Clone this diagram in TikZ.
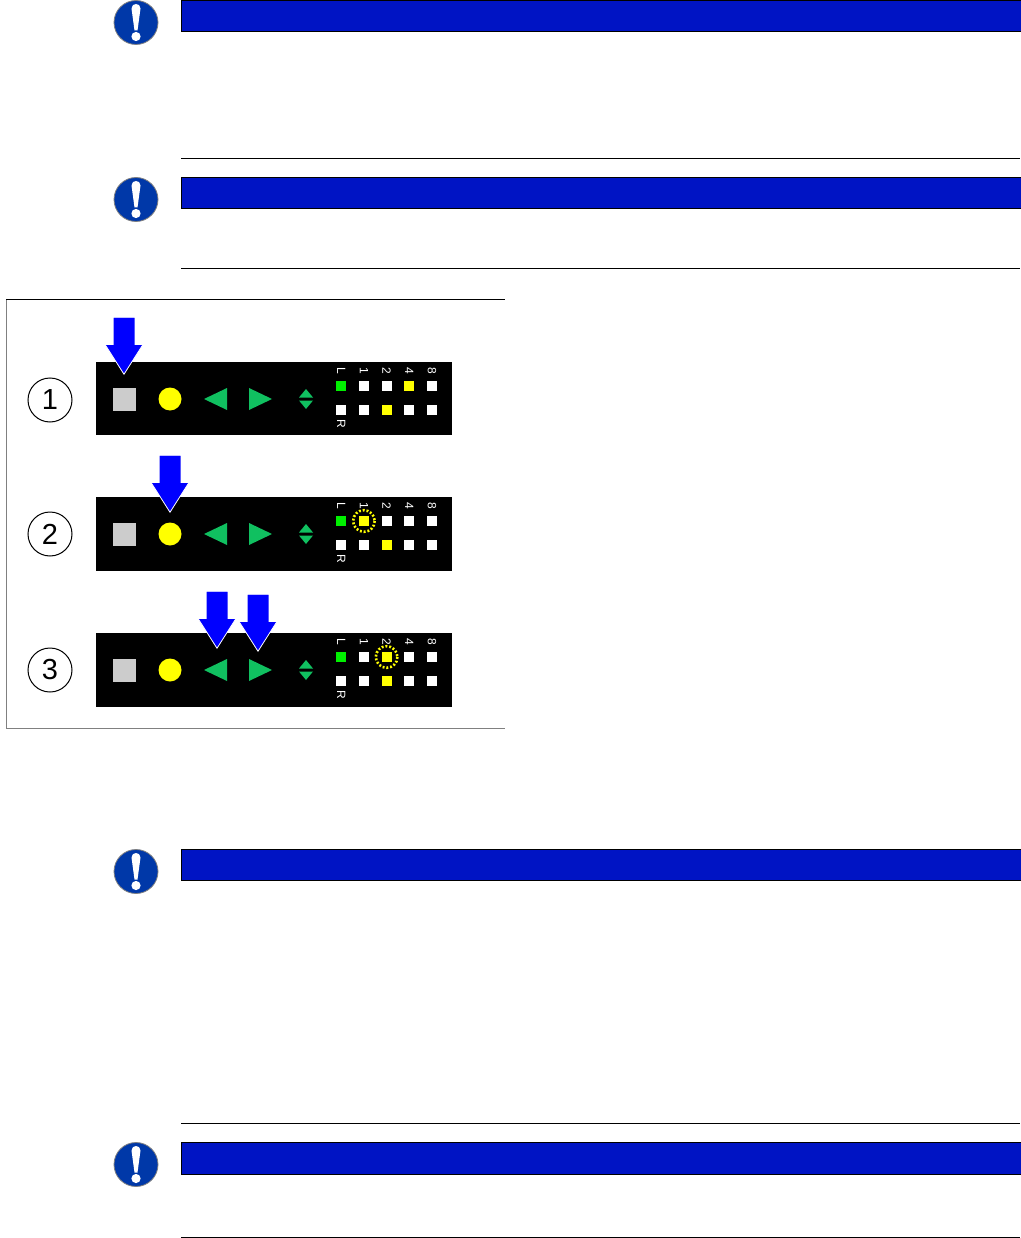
\documentclass[tikz,border=0pt]{standalone}
\usepackage{fontspec}
\setmainfont{Liberation Sans}
\usepackage{xcolor}
\usetikzlibrary{shapes.arrows}
\definecolor{barblue}{HTML}{0014C4}
\definecolor{iconblue}{HTML}{0038A8}
\definecolor{arrowblue}{HTML}{0000FF}
\definecolor{trigreen}{HTML}{10C060}
\definecolor{ledgreen}{HTML}{00F000}
\definecolor{ledyellow}{HTML}{FFFF00}

\begin{document}
\begin{tikzpicture}[x=1pt,y=-1pt]
            \tikzstyle{bar}=[draw=black,fill=barblue,line width=0.8]
            \tikzstyle{rule}=[draw=black,line width=0.7]
            \tikzstyle{icon}=[circle,draw=gray,fill=iconblue,line width=0.8,minimum size=44,inner sep=0]
            \tikzstyle{panel}=[fill=black,minimum width=356,anchor=north west,inner sep=0]
            \tikzstyle{led}=[minimum size=10,inner sep=0]
            \tikzstyle{ledlabel}=[text=white,font=\fontsize{12}{12}\selectfont,rotate=270,inner sep=0]
            \tikzstyle{stepnum}=[circle,draw,line width=1,minimum size=44,inner sep=0,font=\fontsize{29}{29}\selectfont]
            \tikzstyle{press}=[single arrow,draw=white,fill=arrowblue,line width=0.8,rotate=270,anchor=tip,inner xsep=0,inner ysep=10.5,
              minimum height=57,single arrow head extend=8,single arrow head indent=0,single arrow tip angle=65]
            \useasboundingbox (0,0) rectangle (1020,1238);
            % note bars with their icons
            \foreach \n/\ytop/\ybot in {1/0/31,2/177/208,3/849/880,4/1142/1174}{
              \draw[bar] (181,\ytop) rectangle (1021,\ybot);
              \node(icon\n)[icon] at (136,\ytop+22.5){};
              \fill[white] ([shift={(-4.5,-14)}]icon\n.center) .. controls ([shift={(-4.5,-20)}]icon\n.center) and ([shift={(4.5,-20)}]icon\n.center) .. ([shift={(4.5,-14)}]icon\n.center) -- ([shift={(1.5,8)}]icon\n.center) -- ([shift={(-1.5,8)}]icon\n.center) -- cycle;
              \fill[white] ([shift={(0,14)}]icon\n.center) circle (4.6);
            }
            % rules
            \foreach \y in {158,268,1123,1237}{
              \draw[rule] (181,\y) -- (1020,\y);
            }
            % frame
            \draw[gray,line width=0.8] (6,299) -- (6,728) -- (505,728);
            \draw[black,line width=0.9] (6,299) -- (505,299);
            % the three panels
            \foreach \n/\y/\h/\top/\blink in {1/362/73/{ledgreen,white,white,ledyellow,white}/0,2/497/74/{ledgreen,ledyellow,white,white,white}/2,3/633/74/{ledgreen,white,ledyellow,white,white}/3}{
              \begin{scope}[shift={(0,\y)}]
                \node(panel\n)[panel,minimum height=\h] at (96,0){};
                \node(num\n)[stepnum] at (50,\ifnum\n=1 38\else 37\fi){\n};
                \fill[black!20] (112.5,25.5) rectangle (135.5,48.5);
                \fill[ledyellow] (170,37) circle (11.5);
                \fill[trigreen] (204,37) -- (227,26) -- (227,48) -- cycle;
                \fill[trigreen] (272,37) -- (249,26) -- (249,48) -- cycle;
                \fill[trigreen] (306,27) -- (313,35.5) -- (299,35.5) -- cycle;
                \fill[trigreen] (306,47) -- (313,38.5) -- (299,38.5) -- cycle;
                \foreach \c [count=\i] in \top{
                  \node(top\n\i)[led,fill=\c] at (318.5+22.7*\i,24){};
                }
                \foreach \c [count=\i] in {white,white,ledyellow,white,white}{
                  \node(bot\n\i)[led,fill=\c] at (318.5+22.7*\i,48){};
                }
                \foreach \t [count=\i] in {L,1,2,4,8}{
                  \node(lab\n\i)[ledlabel] at (318.5+22.7*\i,9){\t};
                }
                \node(labr\n)[ledlabel] at (341.2,62){R};
                \ifnum\blink>0
                  \draw[ledyellow,line width=2.6,dash pattern=on 1.9 off 1.9] (top\n\blink) circle (10.8);
                \fi
              \end{scope}
            }
            % pressed keys
            \node(press1)[press] at (124,375){};
            \node(press2)[press] at (170,513){};
            \node(press3)[press] at (217,649){};
            \node(press4)[press] at (258,652){};
          \end{tikzpicture}
\end{document}
